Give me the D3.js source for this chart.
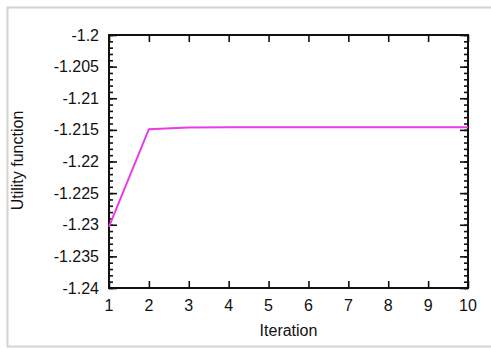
<!DOCTYPE html>
<html>
<head>
<meta charset="utf-8">
<script src="https://cdn.jsdelivr.net/npm/d3@7"></script>
<style>
  body { margin: 0; background: #fff; }
  text { font-family: "Liberation Sans", Arial, Helvetica, sans-serif; fill: #111; }
</style>
</head>
<body>
<script>
const width = 491;
const height = 349;

// data
var iterations = [1, 2, 3, 4, 5, 6, 7, 8, 9, 10];
var utility = [-1.2303, -1.2149, -1.21462, -1.21459, -1.21458, -1.21458, -1.21458, -1.21458, -1.21458, -1.21458];
var yTicks = [-1.2, -1.205, -1.21, -1.215, -1.22, -1.225, -1.23, -1.235, -1.24];
var xTicks = [1, 2, 3, 4, 5, 6, 7, 8, 9, 10];

var margin = {top: 35, right: 23, bottom: 61, left: 109};
var w = width - margin.left - margin.right,
    h = height - margin.top - margin.bottom;

var svg = d3.select("body").append("svg")
    .attr("width", width)
    .attr("height", height);

// light frame round the figure
svg.append("rect")
    .attr("x", 7.5).attr("y", 7.5)
    .attr("width", width + 10).attr("height", 339)
    .attr("fill", "none")
    .attr("stroke", "#d4d4d4")
    .attr("stroke-width", 2);

var g = svg.append("g")
    .attr("transform", `translate(${margin.left},${margin.top})`);

var x = d3.scaleLinear().domain([1, 10]).range([0, w]);
var y = d3.scaleLinear().domain([-1.24, -1.2]).range([h, 0]);

var minor = d3.range(-1.24, -1.2 + 1e-9, 0.001);

function fmt(d) { return String(+d.toFixed(3)); }

// left axis: major + minor ticks pointing inward
g.append("g")
    .call(d3.axisRight(y).tickValues(minor).tickSize(4).tickFormat(""))
    .call(s => s.select(".domain").remove());
g.append("g")
    .call(d3.axisRight(y).tickValues(yTicks).tickSize(8).tickFormat(""))
    .call(s => s.select(".domain").remove());
g.append("g")
    .selectAll("text")
    .data(yTicks)
  .enter().append("text")
    .attr("x", -10)
    .attr("y", d => y(d))
    .attr("dy", "0.35em")
    .attr("text-anchor", "end")
    .style("font-size", "16px")
    .text(fmt);

// right axis (mirrored)
g.append("g")
    .attr("transform", `translate(${w},0)`)
    .call(d3.axisLeft(y).tickValues(minor).tickSize(4).tickFormat(""))
    .call(s => s.select(".domain").remove());
g.append("g")
    .attr("transform", `translate(${w},0)`)
    .call(d3.axisLeft(y).tickValues(yTicks).tickSize(8).tickFormat(""))
    .call(s => s.select(".domain").remove());

// bottom and top axes
g.append("g")
    .attr("transform", `translate(0,${h})`)
    .call(d3.axisTop(x).tickValues(xTicks).tickSize(7).tickFormat(""))
    .call(s => s.select(".domain").remove());
g.append("g")
    .call(d3.axisBottom(x).tickValues(xTicks).tickSize(7).tickFormat(""))
    .call(s => s.select(".domain").remove());
g.append("g")
    .selectAll("text")
    .data(xTicks)
  .enter().append("text")
    .attr("x", d => x(d))
    .attr("y", h + 23)
    .attr("text-anchor", "middle")
    .style("font-size", "16px")
    .text(d => d);

g.selectAll(".tick line").attr("stroke", "#111").attr("stroke-width", 1.6);

// frame of plot
g.append("rect")
    .attr("width", w).attr("height", h)
    .attr("fill", "none")
    .attr("stroke", "#111")
    .attr("stroke-width", 2);

var line = d3.line()
    .x((d, i) => x(iterations[i]))
    .y(d => y(d));

g.append("path")
    .datum(utility)
    .attr("d", line)
    .attr("fill", "none")
    .attr("stroke", "#e83ce8")
    .attr("stroke-width", 2);

// axis titles
g.append("text")
    .attr("x", w / 2)
    .attr("y", h + 48)
    .attr("text-anchor", "middle")
    .style("font-size", "16px")
    .text("Iteration");

g.append("text")
    .attr("transform", `translate(${23 - margin.left},${h / 2 - 1}) rotate(-90)`)
    .attr("text-anchor", "middle")
    .style("font-size", "16px")
    .text("Utility function");
</script>
</body>
</html>
